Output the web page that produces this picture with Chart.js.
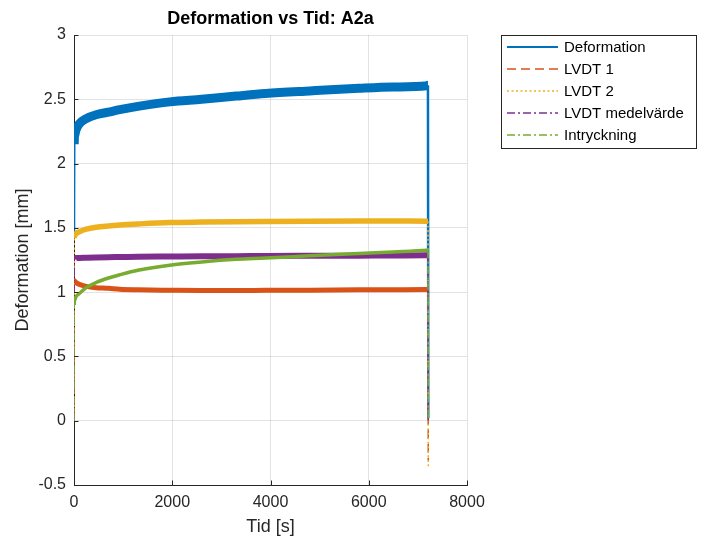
<!DOCTYPE html>
<html>
<head>
<meta charset="utf-8">
<script src="https://cdn.jsdelivr.net/npm/chart.js@4/dist/chart.umd.min.js"></script>
<style>
  html, body { margin: 0; padding: 0; background: #ffffff; }
  #wrap { width: 708px; height: 541px; position: relative; }
</style>
</head>
<body>
<div id="wrap"><canvas id="c" width="708" height="541"></canvas></div>
<script>
// Time samples [s]
const tid = [0, 5, 15, 40, 110, 250, 450, 700, 930, 1300, 1950, 2600, 3300, 3900, 4800, 5800, 6500, 7180, 7205, 7212];

// Measured series [mm]
const deformation = [1.45, 2.15, 2.22, 2.26, 2.31, 2.35, 2.38, 2.40, 2.42, 2.445, 2.48, 2.50, 2.525, 2.545, 2.565, 2.585, 2.595, 2.605, 2.61, 0.02];
const lvdt1 = [0, 1.09, 1.085, 1.075, 1.06, 1.045, 1.035, 1.03, 1.022, 1.018, 1.015, 1.013, 1.013, 1.014, 1.015, 1.018, 1.019, 1.02, 1.02, -0.31];
const lvdt2 = [0, 1.42, 1.44, 1.455, 1.47, 1.49, 1.505, 1.515, 1.522, 1.53, 1.541, 1.545, 1.548, 1.55, 1.552, 1.553, 1.553, 1.552, 1.552, -0.37];
const lvdtMedel = [0, 1.255, 1.262, 1.265, 1.266, 1.268, 1.27, 1.272, 1.273, 1.275, 1.277, 1.279, 1.28, 1.282, 1.283, 1.284, 1.285, 1.286, 1.286, 0.0];
const intryckning = [0, 0.9, 0.94, 0.965, 0.99, 1.035, 1.075, 1.11, 1.135, 1.17, 1.21, 1.235, 1.255, 1.265, 1.283, 1.30, 1.312, 1.325, 1.326, 0.0];

// Labels
const seriesNames = ['Deformation', 'LVDT 1', 'LVDT 2', 'LVDT medelvärde', 'Intryckning'];
const xTicks = [0, 2000, 4000, 6000, 8000];
const yTicks = [-0.5, 0, 0.5, 1, 1.5, 2, 2.5, 3];

const FONT = '"Liberation Sans", Arial, Helvetica, sans-serif';
const INK = '#262626';

// Per-series appearance: band width for the noisy plateau, thin width and dash for jumps
const styles = [
  { color: '#0072BD', band: 9,   thin: 2.5, dash: [],           legendWidth: 2.2 },
  { color: '#D95319', band: 5,   thin: 1.5, dash: [9, 5],       legendWidth: 1.5 },
  { color: '#EDB120', band: 5.5, thin: 1.5, dash: [2, 2.5],     legendWidth: 1.5 },
  { color: '#7E2F8E', band: 6,   thin: 1.5, dash: [8, 3, 2, 3], legendWidth: 1.5 },
  { color: '#77AC30', band: 3.5, thin: 1.5, dash: [8, 3, 2, 3], legendWidth: 1.5 }
];

const values = [deformation, lvdt1, lvdt2, lvdtMedel, intryckning];

function isJump(ctx) {
  return (ctx.p1.parsed.x - ctx.p0.parsed.x) < 12 &&
         Math.abs(ctx.p1.parsed.y - ctx.p0.parsed.y) > 0.3;
}

const datasets = values.map((v, i) => {
  const s = styles[i];
  return {
    label: seriesNames[i],
    data: tid.map((t, k) => ({ x: t, y: v[k] })),
    borderColor: s.color,
    backgroundColor: s.color,
    borderWidth: s.band,
    pointRadius: 0,
    fill: false,
    cubicInterpolationMode: 'monotone',
    borderJoinStyle: 'round',
    order: values.length - i,
    segment: {
      borderWidth: ctx => isJump(ctx) ? s.thin : s.band,
      borderDash: ctx => isJump(ctx) ? s.dash : []
    }
  };
});

// Title, inward tick marks and boxed legend
const decorations = {
  id: 'decorations',
  afterDraw(chart) {
    const c = chart.ctx;
    const area = chart.chartArea;
    const xs = chart.scales.x, ys = chart.scales.y;

    // tick marks pointing into the axes
    c.save();
    c.strokeStyle = INK;
    c.lineWidth = 1;
    c.beginPath();
    xs.ticks.forEach(t => {
      const px = Math.round(xs.getPixelForValue(t.value)) + 0.5;
      c.moveTo(px, area.bottom);
      c.lineTo(px, area.bottom - 4.5);
    });
    ys.ticks.forEach(t => {
      const py = Math.round(ys.getPixelForValue(t.value)) + 0.5;
      c.moveTo(area.left, py);
      c.lineTo(area.left + 4.5, py);
    });
    c.stroke();
    c.restore();

    // title
    c.save();
    c.fillStyle = '#000000';
    c.font = 'bold 18px ' + FONT;
    c.textAlign = 'center';
    c.textBaseline = 'middle';
    c.fillText('Deformation vs Tid: A2a', (area.left + area.right) / 2, 19);
    c.restore();

    // legend
    const bx = 501.5, by = 35.5, bw = 195, bh = 113;
    c.save();
    c.fillStyle = '#ffffff';
    c.fillRect(bx, by, bw, bh);
    c.strokeStyle = INK;
    c.lineWidth = 1;
    c.strokeRect(bx, by, bw, bh);
    c.font = '15px ' + FONT;
    c.textBaseline = 'middle';
    c.textAlign = 'left';
    seriesNames.forEach((name, i) => {
      const s = styles[i];
      const y = 47 + i * 22;
      c.beginPath();
      c.setLineDash(s.dash);
      c.strokeStyle = s.color;
      c.lineWidth = s.legendWidth;
      c.moveTo(507, y);
      c.lineTo(558, y);
      c.stroke();
      c.setLineDash([]);
      c.fillStyle = '#000000';
      c.fillText(name, 564, y + 0.5);
    });
    c.restore();
  }
};

new Chart(document.getElementById('c'), {
  type: 'line',
  data: { datasets },
  options: {
    responsive: false,
    animation: false,
    events: [],
    layout: { padding: { left: 0, right: 241, top: 35, bottom: 0 } },
    plugins: {
      legend: { display: false },
      title: { display: false },
      tooltip: { enabled: false }
    },
    scales: {
      x: {
        type: 'linear',
        min: 0,
        max: 8000,
        afterBuildTicks: scale => { scale.ticks = xTicks.map(v => ({ value: v })); },
        afterFit: scale => { scale.height = 56; },
        grid: { color: 'rgba(38,38,38,0.13)', lineWidth: 1, drawTicks: false },
        border: { display: true, color: INK, width: 1 },
        ticks: {
          padding: 8,
          color: INK,
          font: { family: FONT, size: 16 },
          maxRotation: 0,
          callback: v => String(v)
        },
        title: {
          display: true,
          text: 'Tid [s]',
          color: INK,
          font: { family: FONT, size: 18 },
          padding: { top: 0, bottom: 3 }
        }
      },
      y: {
        type: 'linear',
        min: -0.5,
        max: 3,
        afterBuildTicks: scale => { scale.ticks = yTicks.map(v => ({ value: v })); },
        afterFit: scale => { scale.width = 74; },
        grid: { color: 'rgba(38,38,38,0.13)', lineWidth: 1, drawTicks: false },
        border: { display: true, color: INK, width: 1 },
        ticks: {
          padding: 8,
          color: INK,
          font: { family: FONT, size: 16 },
          callback: v => String(v)
        },
        title: {
          display: true,
          text: 'Deformation [mm]',
          color: INK,
          font: { family: FONT, size: 18 },
          padding: { top: 12, bottom: 0 }
        }
      }
    }
  },
  plugins: [decorations]
});
</script>
</body>
</html>
